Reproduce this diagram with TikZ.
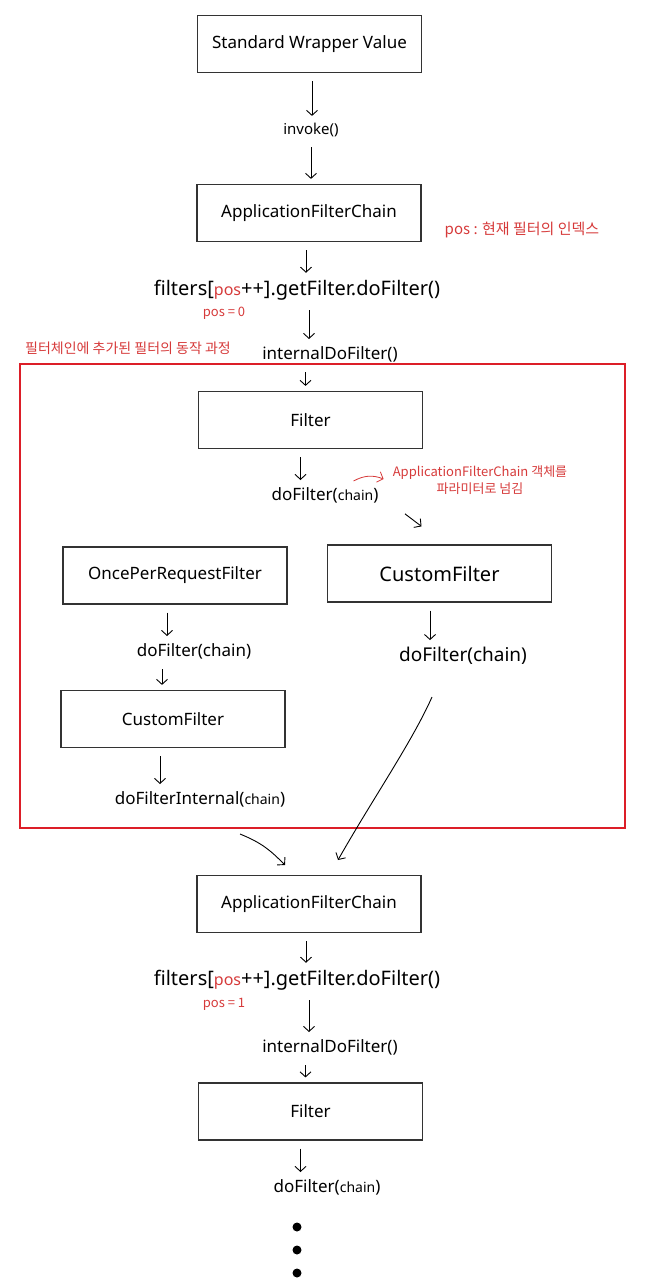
\documentclass[tikz,border=0pt]{standalone}
\usepackage{fontspec}
\setmainfont{Noto Sans}
\newfontfamily\kor{Noto Sans CJK KR}
\usetikzlibrary{arrows.meta}
\definecolor{penred}{RGB}{214,58,58}
\definecolor{framered}{RGB}{220,30,40}
\tikzset{
  >={Straight Barb[length=5pt,width=11pt]},
  box/.style={draw=black!80, line width=1.2pt, minimum width=224pt, minimum height=57pt, font=\fontsize{17}{20}\selectfont},
  call/.style={font=\fontsize{17}{20}\selectfont, inner sep=2pt},
  getcall/.style={font=\fontsize{20}{24}\selectfont, inner sep=2pt},
  note/.style={text=penred, font=\kor\fontsize{13}{17}\selectfont, align=center, inner sep=1pt},
  flow/.style={arrows=->, line width=0.9pt, shorten <=8pt, shorten >=5pt},
}
\begin{document}
\begin{tikzpicture}[x=1pt, y=-1pt]
\useasboundingbox (0,0) rectangle (657,1280);

%boxes
\node[box] (wrapper) at (309.5,44) {Standard Wrapper Value};
\node[box] (chain1) at (309,213) {ApplicationFilterChain};
\node[box] (filter1) at (310.5,420) {Filter};
\node[box] (once) at (175,575.5) {OncePerRequestFilter};
\node[box, font=\fontsize{20}{24}\selectfont] (custom1) at (439.5,573.5) {CustomFilter};
\node[box] (custom2) at (173,719) {CustomFilter};
\node[box] (chain2) at (309,904) {ApplicationFilterChain};
\node[box] (filter2) at (310.5,1111.5) {Filter};

%calls
\node[call, font=\fontsize{15}{18}\selectfont] (invoke) at (311,130) {invoke()};
\node[getcall] (filters1) at (297,290) {filters[{\fontsize{16}{18}\selectfont\textcolor{penred}{pos}}++].getFilter.doFilter()};
\node[call] (internal1) at (330,354) {internalDoFilter()};
\node[call] (dof1) at (325,495) {doFilter({\fontsize{14}{16}\selectfont chain})};
\node[call] (dof2) at (194,651) {doFilter(chain)};
\node[call] (dofint) at (200,799) {doFilterInternal({\fontsize{14}{16}\selectfont chain})};
\node[call, font=\fontsize{19}{22}\selectfont] (dof3) at (463,656) {doFilter(chain)};
\node[getcall] (filters2) at (297,980) {filters[{\fontsize{16}{18}\selectfont\textcolor{penred}{pos}}++].getFilter.doFilter()};
\node[call] (internal2) at (330,1047) {internalDoFilter()};
\node[call] (dof4) at (327,1187) {doFilter({\fontsize{14}{16}\selectfont chain})};

%red notes
\node[note, font=\kor\fontsize{15}{18}\selectfont] (posnote) at (522,230) {pos : 현재 필터의 인덱스};
\node[note] (pos0) at (224,313) {pos = 0};
\node[note] (pos1) at (224,1004) {pos = 1};
\node[note, font=\kor\fontsize{14}{17}\selectfont] (title) at (128,348) {필터체인에 추가된 필터의 동작 과정};
\node[note] (passnote) at (480,480) {ApplicationFilterChain 객체를\\파라미터로 넘김};

%red frame
\draw[framered, line width=2.5pt] (20,364) rectangle (625,828);

%arrows
\draw[flow] ([xshift=2.5pt]wrapper.south) -- ([xshift=2.5pt]wrapper.south |- invoke.north);
\draw[flow] (invoke.south) -- ([xshift=2pt]chain1.north);
\draw[flow] ([xshift=-3pt]chain1.south) -- ([xshift=-3pt]chain1.south |- filters1.north);
\draw[flow] (filters1.south -| chain1.south) -- (internal1.north -| chain1.south);
\draw[flow] ([xshift=-5pt]filter1.north |- internal1.south) -- ([xshift=-5pt]filter1.north);
\draw[flow] ([xshift=-10pt]filter1.south) -- ([xshift=-10pt]filter1.south |- dof1.north);
\draw[flow] ([shift={(18,4)}]dof1.south east) -- ([shift={(-14,-15)}]custom1.north);
\draw[penred, arrows=->, line width=0.8pt] ([shift={(-27,-4)}]dof1.north east) to[bend left=25] ([shift={(3,-6)}]dof1.north east);

\draw[flow] ([xshift=-8pt]once.south) -- ([xshift=-8pt]once.south |- dof2.north);
\draw[flow] ([xshift=-11pt]custom2.north |- dof2.south) -- ([xshift=-11pt]custom2.north);
\draw[flow] ([xshift=-13pt]custom2.south) -- ([xshift=-13pt]custom2.south |- dofint.north);
\draw[flow] ([xshift=-9.5pt]custom1.south) -- ([xshift=-9.5pt]custom1.south |- dof3.north);

\coordinate (leftfrom) at (240,834);
\coordinate (leftto) at (285,865);
\coordinate (rightfrom) at (432,697);
\coordinate (rightto) at (338,860);
\draw[arrows=->, line width=0.9pt] (rightfrom) .. controls (412,742) and (372,800) .. (rightto);
\draw[arrows=->, line width=0.9pt] (leftfrom) .. controls (262,843) and (270,850) .. (leftto);

\draw[flow] ([xshift=-3pt]chain2.south) -- ([xshift=-3pt]chain2.south |- filters2.north);
\draw[flow] (filters2.south -| chain2.south) -- (internal2.north -| chain2.south);
\draw[flow] ([xshift=-5pt]filter2.north |- internal2.south) -- ([xshift=-5pt]filter2.north);
\draw[flow] ([xshift=-10pt]filter2.south) -- ([xshift=-10pt]filter2.south |- dof4.north);

%dots
\fill (297,1227) circle (4.5);
\fill (297,1250) circle (4.5);
\fill (297,1273) circle (4.5);
\end{tikzpicture}
\end{document}
